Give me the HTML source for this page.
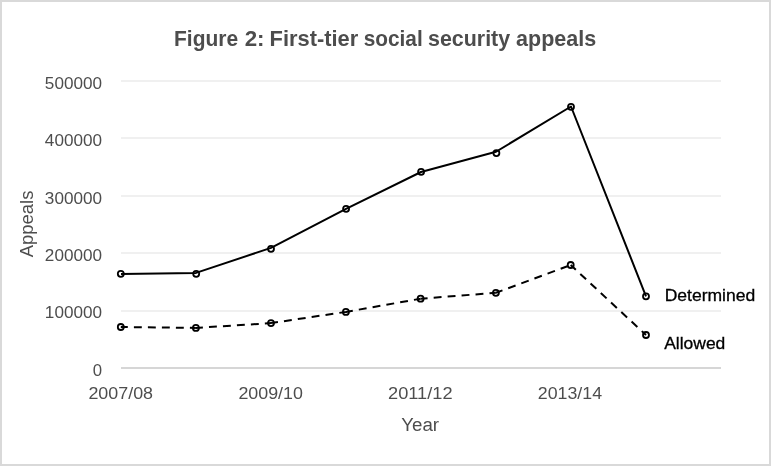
<!DOCTYPE html>
<html><head><meta charset="utf-8">
<style>
html,body{margin:0;padding:0;background:#fff;}
body{width:771px;height:466px;overflow:hidden;}
svg{display:block;will-change:transform;}
text{font-family:"Liberation Sans",sans-serif;}
</style></head>
<body>
<svg width="771" height="466" viewBox="0 0 771 466">
<rect x="0" y="0" width="771" height="466" fill="#d9d9d9"/>
<rect x="2" y="2" width="767" height="462" fill="#ffffff"/>
<g fill="#f0f0f0">
<rect x="121" y="80" width="600" height="2"/>
<rect x="121" y="137" width="600" height="2"/>
<rect x="121" y="195" width="600" height="2"/>
<rect x="121" y="252" width="600" height="2"/>
<rect x="121" y="310" width="600" height="2"/>
</g>
<rect x="121" y="367" width="600" height="2" fill="#d6d6d6"/>
<text x="174.05" y="45.5" font-size="21.5" fill="#4d4d4d" font-weight="bold" textLength="64.11" lengthAdjust="spacingAndGlyphs">Figure</text>
<text x="244.68" y="45.5" font-size="21.5" fill="#4d4d4d" font-weight="bold" textLength="19.86" lengthAdjust="spacingAndGlyphs">2:</text>
<text x="269.58" y="45.5" font-size="21.5" fill="#4d4d4d" font-weight="bold" textLength="88.64" lengthAdjust="spacingAndGlyphs">First-tier</text>
<text x="363.76" y="45.5" font-size="21.5" fill="#4d4d4d" font-weight="bold" textLength="58.92" lengthAdjust="spacingAndGlyphs">social</text>
<text x="427.97" y="45.5" font-size="21.5" fill="#4d4d4d" font-weight="bold" textLength="82.18" lengthAdjust="spacingAndGlyphs">security</text>
<text x="516.04" y="45.5" font-size="21.5" fill="#4d4d4d" font-weight="bold" textLength="80.09" lengthAdjust="spacingAndGlyphs">appeals</text>
<text x="102.01" y="88.9" font-size="16.75" fill="#4d4d4d" textLength="57.14" lengthAdjust="spacingAndGlyphs" text-anchor="end">500000</text>
<text x="102.01" y="146.26" font-size="16.75" fill="#4d4d4d" textLength="57.14" lengthAdjust="spacingAndGlyphs" text-anchor="end">400000</text>
<text x="102.01" y="203.62" font-size="16.75" fill="#4d4d4d" textLength="57.14" lengthAdjust="spacingAndGlyphs" text-anchor="end">300000</text>
<text x="102.01" y="260.98" font-size="16.75" fill="#4d4d4d" textLength="57.14" lengthAdjust="spacingAndGlyphs" text-anchor="end">200000</text>
<text x="102.01" y="318.34" font-size="16.75" fill="#4d4d4d" textLength="57.14" lengthAdjust="spacingAndGlyphs" text-anchor="end">100000</text>
<text x="102.01" y="375.7" font-size="16.75" fill="#4d4d4d" text-anchor="end">0</text>
<text x="120.75" y="398.7" font-size="16.75" fill="#4d4d4d" textLength="64.6" lengthAdjust="spacingAndGlyphs" text-anchor="middle">2007/08</text>
<text x="270.64" y="398.7" font-size="16.75" fill="#4d4d4d" textLength="64.53" lengthAdjust="spacingAndGlyphs" text-anchor="middle">2009/10</text>
<text x="420.28" y="398.7" font-size="16.75" fill="#4d4d4d" textLength="64.49" lengthAdjust="spacingAndGlyphs" text-anchor="middle">2011/12</text>
<text x="569.93" y="398.7" font-size="16.75" fill="#4d4d4d" textLength="64.2" lengthAdjust="spacingAndGlyphs" text-anchor="middle">2013/14</text>
<text x="420.18" y="430.9" font-size="18" fill="#4d4d4d" textLength="37.79" lengthAdjust="spacingAndGlyphs" text-anchor="middle">Year</text>
<text transform="translate(33.3,223.9) rotate(-90)" font-size="18" fill="#4d4d4d" textLength="66.6" lengthAdjust="spacingAndGlyphs" text-anchor="middle">Appeals</text>
<g fill="none" stroke="#000" stroke-width="2" stroke-linejoin="round">
<polyline points="121,274.05 196,272.9 271,247.9 346,208.8 421,172.0 496,151.75 571,106.5 646,296.3"/>
<g stroke-dasharray="7.9 6.1" stroke-dashoffset="0.9" stroke-linecap="butt">
<line x1="120.8" y1="327" x2="195.9" y2="327.9"/>
<line x1="195.9" y1="327.9" x2="271" y2="323.1"/>
<line x1="271" y1="323.1" x2="345.9" y2="311.9"/>
<line x1="345.9" y1="311.9" x2="420.6" y2="298.7"/>
<line x1="420.6" y1="298.7" x2="495.9" y2="292.8"/>
<line x1="495.9" y1="292.8" x2="570.7" y2="265"/>
<line x1="570.7" y1="265" x2="646" y2="335"/>
</g>
</g>
<g fill="none" stroke="#000" stroke-width="1.8">
<circle cx="120.8" cy="273.8" r="3.0"/>
<circle cx="196.2" cy="273.85" r="3.0"/>
<circle cx="271" cy="248.8" r="3.0"/>
<circle cx="346.1" cy="208.8" r="3.0"/>
<circle cx="421.1" cy="171.8" r="3.0"/>
<circle cx="496.4" cy="153.05" r="3.0"/>
<circle cx="571" cy="106.8" r="3.0"/>
<circle cx="646" cy="296.3" r="3.0"/>
<circle cx="120.8" cy="327" r="3.0"/>
<circle cx="195.9" cy="327.9" r="3.0"/>
<circle cx="271" cy="323.1" r="3.0"/>
<circle cx="345.9" cy="311.9" r="3.0"/>
<circle cx="420.6" cy="298.7" r="3.0"/>
<circle cx="495.9" cy="292.8" r="3.0"/>
<circle cx="570.7" cy="265" r="3.0"/>
<circle cx="646" cy="335" r="3.0"/>
</g>
<g stroke="#000" stroke-width="0.3">
<text x="664.66" y="300.7" font-size="16.75" fill="#000" textLength="90.59" lengthAdjust="spacingAndGlyphs">Determined</text>
<text x="664.19" y="348.7" font-size="16.75" fill="#000" textLength="61.16" lengthAdjust="spacingAndGlyphs">Allowed</text>
</g>
</svg>
</body></html>
